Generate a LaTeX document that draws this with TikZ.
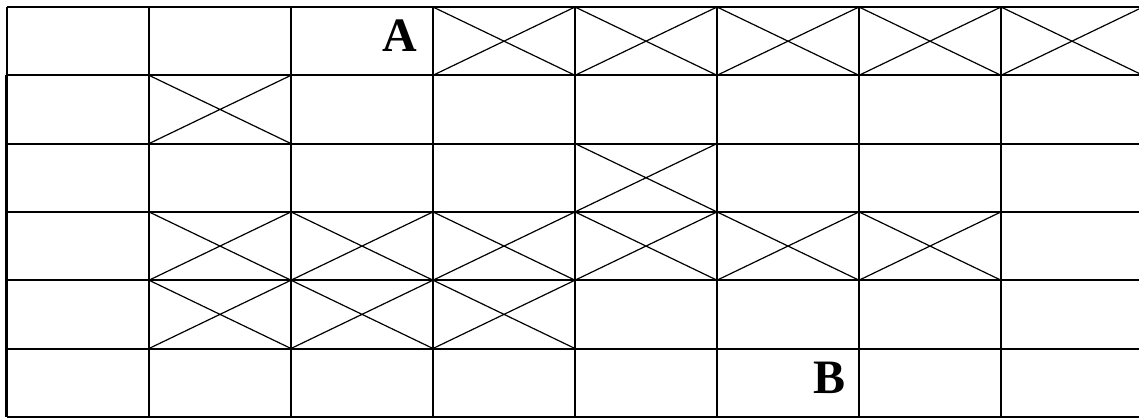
\documentclass[tikz,border=0pt]{standalone}
\usepackage{fontspec}
\setmainfont{Liberation Serif}
\begin{document}
\begin{tikzpicture}[x=0.5pt,y=-0.5pt]
\useasboundingbox (0,0) rectangle (1139,419);
\fill[white] (0,0) rectangle (1139,419);
% crossed cells (column/row)
\foreach \c/\r in {3/0,4/0,5/0,6/0,7/0,1/1,4/2,1/3,2/3,3/3,4/3,5/3,6/3,1/4,2/4,3/4}
  \draw[line width=0.6pt] ({7+142*\c},{7+68.3*\r}) -- ({149+142*\c},{75.3+68.3*\r})
    ({7+142*\c},{75.3+68.3*\r}) -- ({149+142*\c},{7+68.3*\r});
% grid lines
\foreach \r in {0,...,6} \draw[line width=1pt] (7,{7+68.3*\r}) -- (1143,{7+68.3*\r});
\foreach \c in {1,...,8} \draw[line width=1pt] ({7+142*\c},7) -- ({7+142*\c},416.8);
\draw[line width=1pt] (7,7) -- (7,75.3);
\draw[line width=1.75pt] (6.7,75.3) -- (6.7,417.3);
\node[font=\bfseries\fontsize{24}{24}\selectfont] (A) at (400,36) {A};
\node[font=\bfseries\fontsize{24}{24}\selectfont] (B) at (829,378) {B};
\end{tikzpicture}
\end{document}
